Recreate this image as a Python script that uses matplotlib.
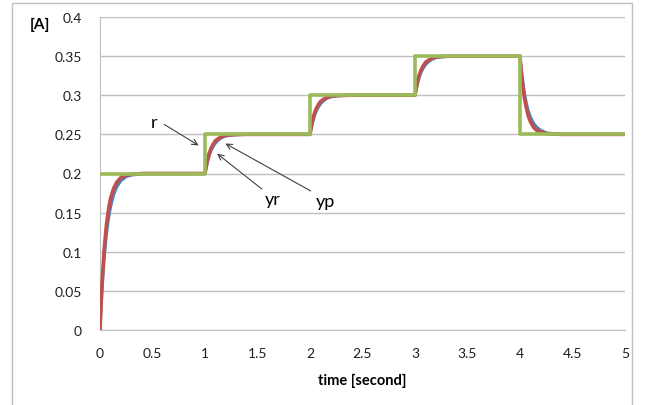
import matplotlib
matplotlib.use("Agg")
import matplotlib.pyplot as plt
from matplotlib.patches import Rectangle

plt.rcParams['font.family'] = ['Lato', 'DejaVu Sans']

# reference r (step signal)
t_r = [0, 1, 1, 2, 2, 3, 3, 4, 4, 5]
r = [0.2, 0.2, 0.25, 0.25, 0.3, 0.3, 0.35, 0.35, 0.25, 0.25]

# sample times (same for yp and yr)
t_y = [0, 0.01, 0.02, 0.04, 0.06, 0.08, 0.1, 0.13, 0.16, 0.2, 0.25, 0.3, 0.4,
       1, 1.01, 1.02, 1.04, 1.06, 1.08, 1.1, 1.13, 1.16, 1.2, 1.25, 1.3, 1.4,
       2, 2.01, 2.02, 2.04, 2.06, 2.08, 2.1, 2.13, 2.16, 2.2, 2.25, 2.3, 2.4,
       3, 3.01, 3.02, 3.04, 3.06, 3.08, 3.1, 3.13, 3.16, 3.2, 3.25, 3.3, 3.4,
       4, 4.01, 4.02, 4.04, 4.06, 4.08, 4.1, 4.13, 4.16, 4.2, 4.25, 4.3, 4.4,
       5]

yp = [0, 0.033, 0.061, 0.103, 0.133, 0.153, 0.168, 0.181, 0.189, 0.195, 0.198, 0.199, 0.2,
      0.2, 0.208, 0.215, 0.226, 0.233, 0.238, 0.242, 0.245, 0.247, 0.249, 0.2495, 0.2498, 0.25,
      0.25, 0.258, 0.265, 0.276, 0.283, 0.288, 0.292, 0.295, 0.297, 0.299, 0.2995, 0.2998, 0.3,
      0.3, 0.308, 0.315, 0.326, 0.333, 0.338, 0.342, 0.345, 0.347, 0.349, 0.3495, 0.3498, 0.35,
      0.35, 0.333, 0.320, 0.298, 0.284, 0.273, 0.266, 0.259, 0.255, 0.253, 0.251, 0.2504, 0.25,
      0.25]

yr = [0, 0.0285, 0.053, 0.092, 0.121, 0.142, 0.157, 0.173, 0.183, 0.191, 0.196, 0.198, 0.1996,
      0.2, 0.207, 0.213, 0.223, 0.230, 0.235, 0.239, 0.243, 0.246, 0.248, 0.249, 0.2495, 0.25,
      0.25, 0.257, 0.263, 0.273, 0.280, 0.285, 0.289, 0.293, 0.296, 0.298, 0.299, 0.2995, 0.3,
      0.3, 0.307, 0.313, 0.323, 0.330, 0.335, 0.339, 0.343, 0.346, 0.348, 0.349, 0.3495, 0.35,
      0.35, 0.336, 0.324, 0.304, 0.290, 0.279, 0.272, 0.264, 0.259, 0.255, 0.252, 0.251, 0.25,
      0.25]

xticks = [0, 0.5, 1, 1.5, 2, 2.5, 3, 3.5, 4, 4.5, 5]
yticks = [0, 0.05, 0.1, 0.15, 0.2, 0.25, 0.3, 0.35, 0.4]

fig = plt.figure(figsize=(6.46, 4.06), dpi=100)
fig.patches.append(Rectangle((12 / 646, -0.02), 620 / 646, 1.02 - 4 / 406,
                             transform=fig.transFigure, fill=False,
                             edgecolor='#BFBFBF', linewidth=1))
ax = fig.add_axes([100 / 646, 1 - 331 / 406, 525 / 646, 313 / 406])

ax.plot(t_y, yr, color='#4F81BD', linewidth=2.2, zorder=3)
ax.plot(t_y, yp, color='#C0504D', linewidth=2.6, zorder=4)
ax.plot(t_r, r, color='#9BBB59', linewidth=2.6, zorder=5)

ax.set_xlim(0, 5)
ax.set_ylim(0, 0.4)
ax.set_xticks(xticks)
ax.set_xticklabels(['0', '0.5', '1', '1.5', '2', '2.5', '3', '3.5', '4', '4.5', '5'])
ax.set_yticks(yticks)
ax.set_yticklabels(['0', '0.05', '0.1', '0.15', '0.2', '0.25', '0.3', '0.35', '0.4'])
ax.tick_params(length=0, labelsize=10, colors='#1F1F1F')
ax.tick_params(axis='x', pad=12)
ax.tick_params(axis='y', pad=13)
ax.grid(axis='y', color='#BFBFBF', linewidth=1)
ax.set_axisbelow(True)
for s in ['top', 'right']:
    ax.spines[s].set_visible(False)
for s in ['left', 'bottom']:
    ax.spines[s].set_color('#BFBFBF')

ax.set_xlabel('time [second]', fontsize=10.5, fontweight='bold', labelpad=10)
fig.text(40 / 646, 1 - 25 / 406, '[A]', fontsize=11, fontweight='bold',
         ha='center', va='center')

arrow = dict(arrowstyle='->', color='#404040', linewidth=0.8)
ax.annotate('', xy=(0.962, 0.234), xytext=(0.59, 0.2645), arrowprops=arrow)
ax.text(0.514, 0.266, 'r', fontsize=13, ha='center', va='center')
ax.annotate('', xy=(1.095, 0.2275), xytext=(1.562, 0.178), arrowprops=arrow)
ax.text(1.648, 0.167, 'yr', fontsize=13, ha='center', va='center')
ax.annotate('', xy=(1.171, 0.240), xytext=(2.03, 0.176), arrowprops=arrow)
ax.text(2.143, 0.165, 'yp', fontsize=13, ha='center', va='center')

fig.savefig('out.png', dpi=100)
